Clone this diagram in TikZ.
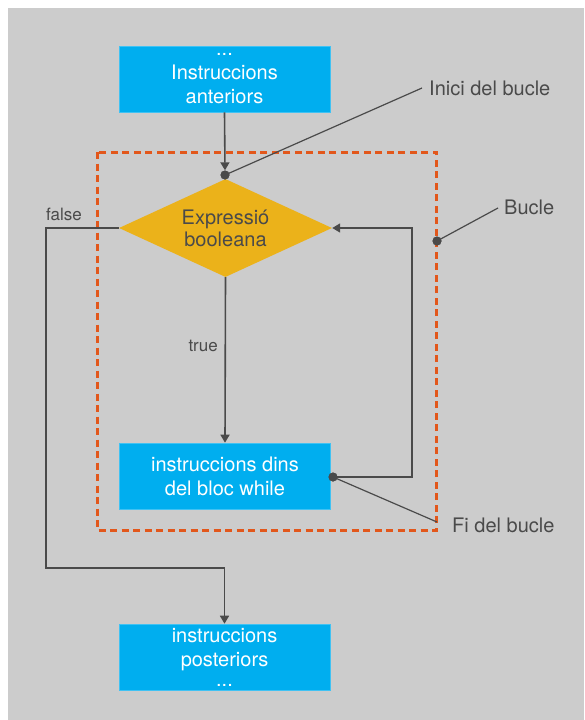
\documentclass[tikz,border=0pt]{standalone}
\usepackage{fontspec}
\setmainfont{TeX Gyre Heros}
\usetikzlibrary{arrows.meta,shapes.geometric}

\definecolor{panelgray}{HTML}{CCCCCC}
\definecolor{boxblue}{HTML}{00AEEF}
\definecolor{decgold}{HTML}{EBB21A}
\definecolor{loopred}{HTML}{E2571B}
\definecolor{ink}{HTML}{4A4A4A}

\begin{document}
\begin{tikzpicture}[x=1pt,y=-1pt,
  stepbox/.style={rectangle, fill=boxblue, draw=boxblue!75!white, line width=0.6pt,
    minimum width=211pt, minimum height=66pt, inner sep=0pt,
    text=white, align=center, font=\fontsize{20}{24}\selectfont},
  decision/.style={diamond, fill=decgold, aspect=2.17, inner sep=0pt,
    minimum width=213pt, minimum height=98pt,
    text=ink, align=center, font=\fontsize{20}{22}\selectfont},
  conn/.style={draw=ink, line width=1.6pt},
  arrowconn/.style={conn, -{Triangle[length=8pt,width=9pt]}},
  pin/.style={circle, fill=ink, minimum size=9pt, inner sep=0pt},
  note/.style={text=ink, inner sep=0pt, font=\fontsize{20}{24}\selectfont},
  smallnote/.style={text=ink, inner sep=0pt, font=\fontsize{17}{20}\selectfont},
  loopframe/.style={draw=loopred, line width=3pt, dash pattern=on 7pt off 4.5pt}
]
% page and panel
\useasboundingbox (0,0) rectangle (584,720);
\fill[white] (0,0) rectangle (584,720);
\fill[panelgray] (8,8) rectangle (584,720);

% dashed frame marking the loop
\draw[loopframe] (97,152) rectangle (436.5,530);

% blocks
\node[stepbox] (prev) at (224.5,79) {...\\Instruccions\\anteriors};
\node[decision] (cond) at (225.5,228) {Expressió\\booleana};
\node[stepbox] (body) at (225,476) {instruccions dins\\del bloc while};
\node[stepbox] (next) at (224.5,657) {instruccions\\posteriors\\[-4pt]...};

% marker dots
\node[pin] (startpin) at (225,175) {};
\node[pin] (framepin) at (437,241) {};
\node[pin] (endpin) at (333,477) {};

% callout labels
\node[note, anchor=west] (inici) at (429,88) {Inici del bucle};
\node[note, anchor=west] (bucle) at (504,207) {Bucle};
\node[note, anchor=west] (fi) at (452,525) {Fi del bucle};
\coordinate (inicitip) at (422,88);
\coordinate (bucletip) at (498,208);
\coordinate (fitip) at (437,522);

% branch labels
\node[smallnote] (falselbl) at (64,214) {false};
\node[smallnote, anchor=east] (truelbl) at (218,346) {true};

% flow
\draw[arrowconn] (prev.south) -- (startpin.north);
\draw[arrowconn] (cond.south) -- (body.north);
\draw[arrowconn] (endpin.center) -- (412,477) |- (cond.east);
\draw[arrowconn] (cond.west) -- (46,228) -- (46,568) -| (next.north);

% callout leaders
\draw[conn, line width=1.2pt] (startpin.center) -- (inicitip);
\draw[conn, line width=1.2pt] (framepin.center) -- (bucletip);
\draw[conn, line width=1.2pt] (endpin.center) -- (fitip);

% redraw dots above the leaders
\node[pin] at (startpin) {};
\node[pin] at (framepin) {};
\node[pin] at (endpin) {};
\end{tikzpicture}
\end{document}
